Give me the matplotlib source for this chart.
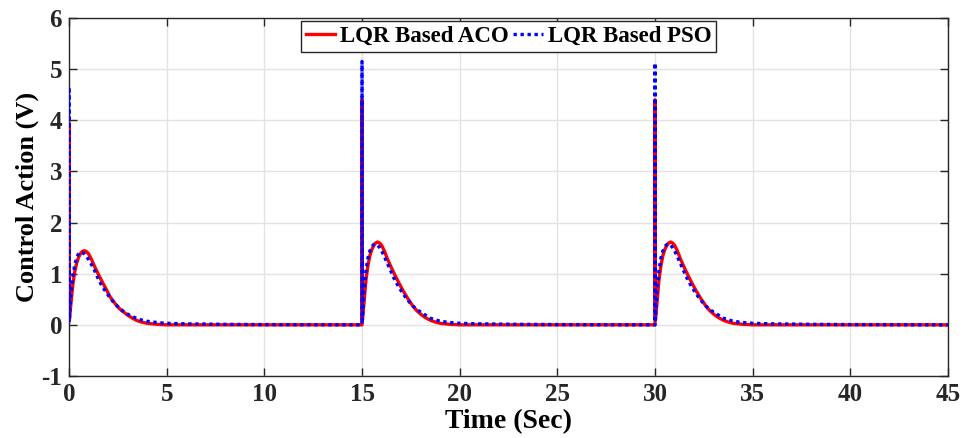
import numpy as np
import matplotlib
matplotlib.use("Agg")
import matplotlib.pyplot as plt

# ---- data ----
pulse_starts = [0, 15, 30]
# local time within each pulse (first entry = value just before spike, second = spike)
pulse_tau = [0.0, 0.0, 0.02, 0.1, 0.2, 0.3, 0.4, 0.5, 0.6, 0.7, 0.8, 0.9, 1.0,
             1.15, 1.3, 1.5, 1.7, 1.9, 2.1, 2.35, 2.6, 2.8, 3.0, 3.25, 3.5,
             3.75, 4.0, 4.5, 5.0, 6.0, 8.0, 10.0, 14.99]

aco_pulse1 = [0.08, 3.95, 0.10, 0.42, 0.80, 1.05, 1.22, 1.33, 1.40, 1.44, 1.45, 1.43, 1.39,
              1.28, 1.15, 0.99, 0.84, 0.70, 0.55, 0.42, 0.31, 0.25, 0.19, 0.13, 0.08,
              0.05, 0.03, 0.01, 0.0, 0.0, 0.0, 0.0, 0.0]
aco_pulse2 = [0.0, 4.40, 0.10, 0.42, 0.87, 1.15, 1.35, 1.47, 1.55, 1.60, 1.62, 1.60, 1.56,
              1.44, 1.29, 1.12, 0.96, 0.81, 0.67, 0.51, 0.37, 0.28, 0.21, 0.14, 0.09,
              0.055, 0.03, 0.01, 0.0, 0.0, 0.0, 0.0, 0.0]
aco_pulse3 = [0.0, 4.40, 0.10, 0.42, 0.87, 1.15, 1.35, 1.47, 1.55, 1.60, 1.62, 1.60, 1.56,
              1.44, 1.29, 1.12, 0.96, 0.81, 0.67, 0.51, 0.37, 0.28, 0.21, 0.14, 0.09,
              0.055, 0.03, 0.01, 0.0, 0.0, 0.0, 0.0, 0.0]

pso_pulse1 = [0.05, 4.65, 0.10, 0.60, 0.95, 1.18, 1.32, 1.40, 1.42, 1.41, 1.38, 1.33, 1.28,
              1.18, 1.07, 0.90, 0.75, 0.64, 0.53, 0.41, 0.32, 0.26, 0.21, 0.16, 0.12,
              0.09, 0.07, 0.045, 0.03, 0.02, 0.01, 0.005, 0.0]
pso_pulse2 = [0.0, 5.15, 0.10, 0.65, 1.05, 1.30, 1.44, 1.53, 1.57, 1.58, 1.56, 1.51, 1.45,
              1.33, 1.20, 1.03, 0.86, 0.73, 0.61, 0.48, 0.37, 0.30, 0.25, 0.19, 0.13,
              0.10, 0.07, 0.045, 0.03, 0.02, 0.01, 0.005, 0.0]
pso_pulse3 = [0.0, 5.12, 0.10, 0.65, 1.05, 1.30, 1.44, 1.53, 1.57, 1.58, 1.56, 1.51, 1.45,
              1.33, 1.20, 1.03, 0.86, 0.73, 0.61, 0.48, 0.37, 0.30, 0.25, 0.19, 0.13,
              0.10, 0.07, 0.045, 0.03, 0.02, 0.01, 0.005, 0.0]

x_ticks = [0, 5, 10, 15, 20, 25, 30, 35, 40, 45]
y_ticks = [-1, 0, 1, 2, 3, 4, 5, 6]

labels = ["LQR Based ACO", "LQR Based PSO"]

# ---- assemble series ----
tau = np.array(pulse_tau)
t_all = np.concatenate([s + tau for s in pulse_starts])
u_aco = np.concatenate([aco_pulse1, aco_pulse2, aco_pulse3])
u_pso = np.concatenate([pso_pulse1, pso_pulse2, pso_pulse3])

plt.rcParams['font.family'] = ['Liberation Serif', 'DejaVu Serif']
plt.rcParams['font.weight'] = 'bold'
plt.rcParams['axes.unicode_minus'] = False

fig = plt.figure(figsize=(9.65, 4.38), dpi=100)
ax = fig.add_axes([0.0715, 0.1416, 0.9109, 0.8173])

ax.plot(t_all, u_aco, color='#ff0000', lw=2.4, label=labels[0], zorder=3,
        solid_joinstyle='round')
ax.plot(t_all, u_pso, color='#0000ff', lw=2.4, linestyle=(0, (1, 1.1)),
        label=labels[1], zorder=4)

ax.set_xlim(0, 45)
ax.set_ylim(-1, 6)
ax.set_xticks(x_ticks)
ax.set_yticks(y_ticks)
ax.tick_params(direction='in', length=6, width=1, top=True, right=True,
               labelsize=18, colors='#262626')
ax.tick_params(axis='x', pad=5)
ax.tick_params(axis='y', pad=5)
for lab in ax.get_xticklabels() + ax.get_yticklabels():
    lab.set_fontweight('bold')
ax.grid(True, color='#e3e3e3', lw=1)
ax.set_axisbelow(True)
for sp in ax.spines.values():
    sp.set_color('#262626')
    sp.set_linewidth(1)

ax.set_xlabel('Time (Sec)', fontsize=20, fontweight='bold', labelpad=2)
ax.set_ylabel('Control Action (V)', fontsize=19, fontweight='bold', labelpad=2)

leg = ax.legend(loc='upper center', ncol=2, fontsize=16.5, frameon=True,
                fancybox=False, edgecolor='#262626', handlelength=1.3,
                handletextpad=0.2, columnspacing=0.2, borderpad=0.2,
                borderaxespad=0.15, framealpha=1)
leg.get_frame().set_linewidth(1)
for txt in leg.get_texts():
    txt.set_fontweight('bold')

fig.savefig('out.png', dpi=100)
